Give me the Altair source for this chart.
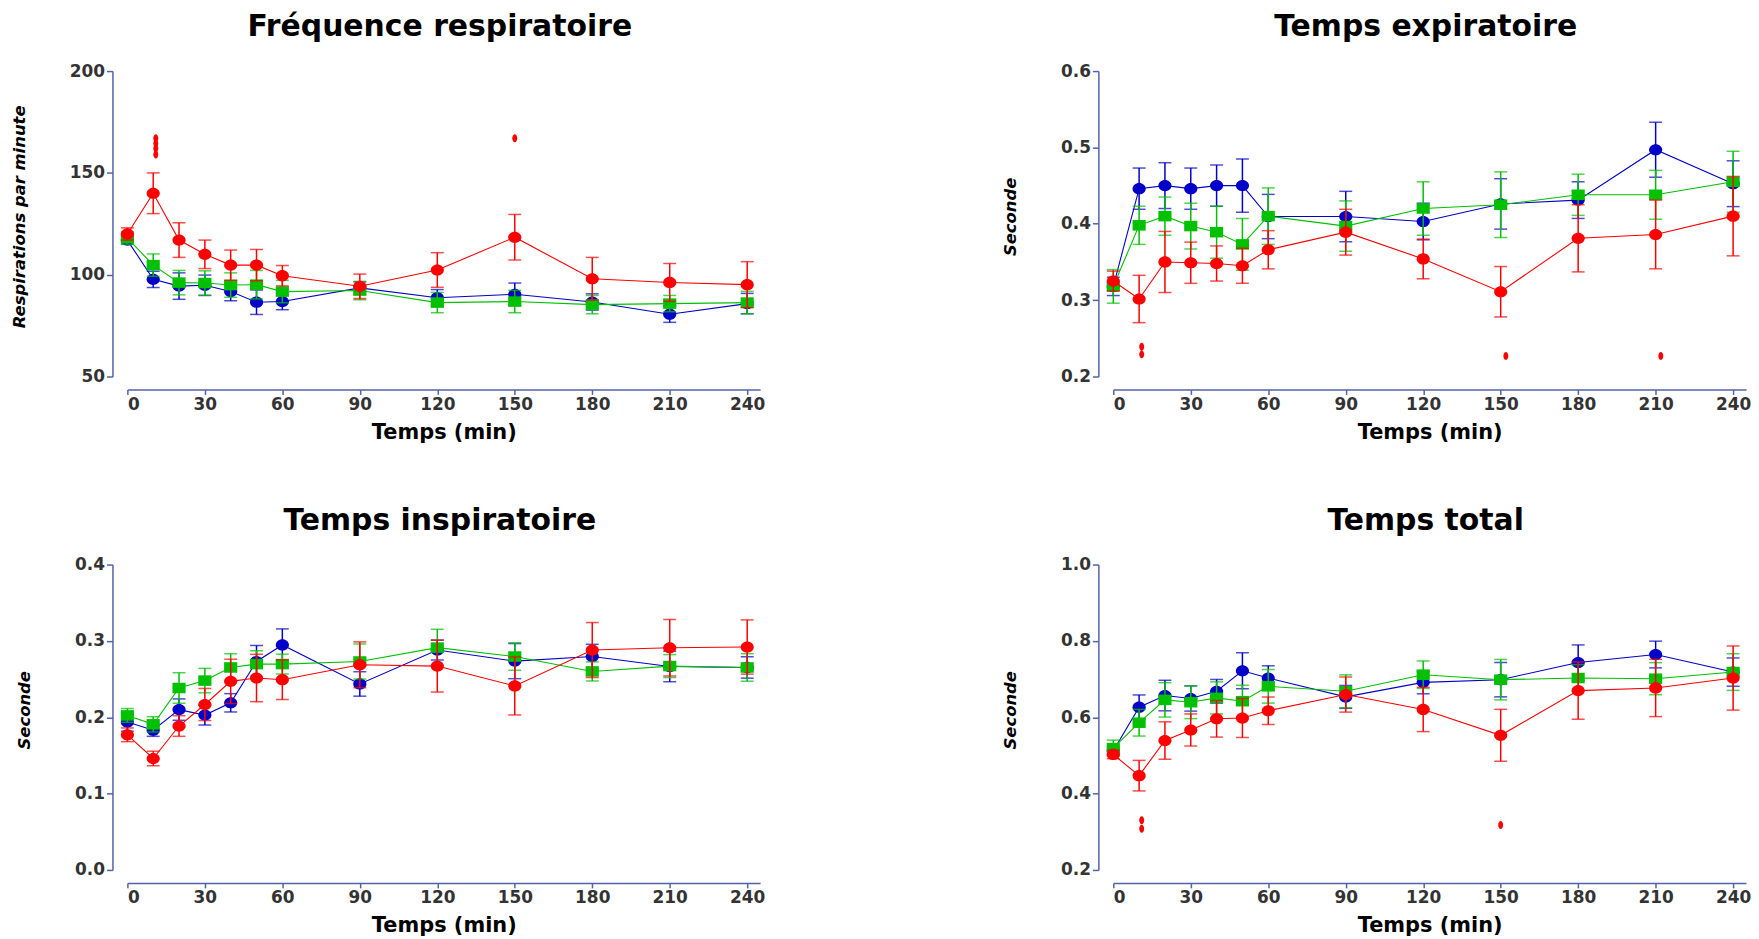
import altair as alt
import pandas as pd

TIMES = [0, 10, 20, 30, 40, 50, 60, 90, 120, 150, 180, 210, 240]
X_TICKS = [0, 30, 60, 90, 120, 150, 180, 210, 240]

# Panel 1 : Fréquence respiratoire
FR_RED = [120, 140, 117, 110, 104.7, 104.7, 99.5, 94.3, 102.3, 118.4, 98, 96.2, 95.1]
FR_RED_ERR = [3, 10, 8.5, 7, 7.4, 7.7, 5, 6, 8.5, 11.2, 10.5, 9.3, 11.3]
FR_BLUE = [117, 97.7, 94.4, 94.8, 91.7, 86.5, 86.8, 93.5, 88.7, 90.4, 86.6, 80.6, 85.8]
FR_BLUE_ERR = [2, 4, 6.5, 5, 4.5, 6, 4, 3, 4, 5.5, 4, 4, 5]
FR_GREEN = [118, 104.7, 96.1, 95.9, 94.9, 95.1, 91.7, 92.2, 86.3, 86.8, 85.3, 85.8, 86.3]
FR_GREEN_ERR = [3, 5.5, 6, 6, 6, 7, 5.5, 4.5, 5, 5.5, 4.5, 4, 5.5]
FR_SIG_X = [11, 11, 11, 11, 150]
FR_SIG_Y = [167, 164.5, 162, 159, 167]

# Panel 2 : Temps expiratoire
TE_RED = [0.325, 0.3015, 0.350, 0.349, 0.348, 0.345, 0.366, 0.389, 0.354, 0.311, 0.381, 0.386, 0.410]
TE_RED_ERR = [0.013, 0.031, 0.04, 0.027, 0.023, 0.023, 0.025, 0.03, 0.026, 0.033, 0.044, 0.045, 0.052]
TE_BLUE = [0.318, 0.446, 0.450, 0.446, 0.450, 0.450, 0.4095, 0.4095, 0.403, 0.426, 0.431, 0.497, 0.4525]
TE_BLUE_ERR = [0.012, 0.027, 0.03, 0.027, 0.027, 0.035, 0.029, 0.033, 0.024, 0.033, 0.024, 0.036, 0.03]
TE_GREEN = [0.318, 0.398, 0.410, 0.397, 0.389, 0.373, 0.410, 0.397, 0.420, 0.425, 0.438, 0.438, 0.455]
TE_GREEN_ERR = [0.022, 0.025, 0.025, 0.03, 0.034, 0.034, 0.037, 0.033, 0.035, 0.043, 0.027, 0.032, 0.04]
TE_SIG_X = [11, 11, 152, 212]
TE_SIG_Y = [0.239, 0.229, 0.227, 0.227]

# Panel 3 : Temps inspiratoire
TI_RED = [0.177, 0.146, 0.1885, 0.2167, 0.247, 0.2514, 0.2492, 0.2687, 0.267, 0.241, 0.288, 0.291, 0.292]
TI_RED_ERR = [0.009, 0.0095, 0.0135, 0.021, 0.029, 0.031, 0.026, 0.03, 0.034, 0.038, 0.036, 0.037, 0.0355]
TI_BLUE = [0.1937, 0.183, 0.210, 0.2028, 0.2189, 0.273, 0.2947, 0.2436, 0.288, 0.2735, 0.2795, 0.2665, 0.2652]
TI_BLUE_ERR = [0.012, 0.008, 0.014, 0.013, 0.012, 0.021, 0.021, 0.016, 0.013, 0.023, 0.016, 0.02, 0.014]
TI_GREEN = [0.2024, 0.1907, 0.2383, 0.248, 0.2652, 0.2696, 0.2696, 0.273, 0.2912, 0.2795, 0.260, 0.267, 0.2652]
TI_GREEN_ERR = [0.009, 0.01, 0.02, 0.016, 0.018, 0.0175, 0.013, 0.023, 0.024, 0.018, 0.0125, 0.015, 0.018]
TI_SIG_X = []
TI_SIG_Y = []

# Panel 4 : Temps total
TT_RED = [0.5025, 0.447, 0.539, 0.5666, 0.596, 0.5978, 0.617, 0.6594, 0.6204, 0.5527, 0.6698, 0.6767, 0.7027]
TT_RED_ERR = [0.011, 0.04, 0.049, 0.042, 0.048, 0.051, 0.036, 0.046, 0.058, 0.068, 0.075, 0.075, 0.084]
TT_BLUE = [0.512, 0.6264, 0.6568, 0.649, 0.668, 0.7218, 0.7027, 0.6533, 0.6914, 0.6984, 0.7434, 0.7643, 0.7183]
TT_BLUE_ERR = [0.01, 0.032, 0.04, 0.033, 0.031, 0.047, 0.032, 0.03, 0.03, 0.045, 0.046, 0.035, 0.037]
TT_GREEN = [0.519, 0.5857, 0.6455, 0.6394, 0.6507, 0.642, 0.681, 0.668, 0.7114, 0.6984, 0.7027, 0.701, 0.7183]
TT_GREEN_ERR = [0.021, 0.035, 0.045, 0.043, 0.042, 0.042, 0.044, 0.043, 0.036, 0.053, 0.035, 0.042, 0.048]
TT_SIG_X = [11, 11, 150]
TT_SIG_Y = [0.33, 0.308, 0.318]

RED = "#ff0000"
BLUE = "#0000c8"
GREEN = "#00c000"
AXIS_COLOR = "#5462a6"
FONT = "DejaVu Sans"

CIRCLE_PATH = "M-1,0A1,0.85 0 1,1 1,0A1,0.85 0 1,1 -1,0Z"
SQUARE_PATH = "M-1,-0.8L1,-0.8L1,0.8L-1,0.8Z"
DOT_PATH = "M0,-1A0.62,1 0 1,1 0,1A0.62,1 0 1,1 0,-1Z"

W, H = 636, 307


def make_x():
    return alt.X(
        "t:Q",
        title="Temps (min)",
        scale=alt.Scale(domain=[0, 245], nice=False, zero=False),
        axis=alt.Axis(
            values=X_TICKS, offset=13, tickSize=5, labelPadding=2,
            titlePadding=9, titleFontSize=21, titleFontStyle="normal",
            titleColor="black", grid=False,
        ),
    )


def make_y(field, ytitle, ydom, yticks, fmt):
    return alt.Y(
        field,
        type="quantitative",
        title=ytitle,
        scale=alt.Scale(domain=ydom, nice=False, zero=False),
        axis=alt.Axis(
            values=yticks, format=fmt, offset=15, tickSize=6, labelPadding=2,
            titlePadding=42, titleFontSize=16.5, titleFontStyle="italic",
            titleColor="black", titleY=146, grid=False,
        ),
    )


def panel(title, ytitle, ydom, yticks, fmt, series, sig_x, sig_y):
    layers = []
    for mean, err, color, path in series:
        df = pd.DataFrame({
            "t": TIMES,
            "m": mean,
            "lo": [m - e for m, e in zip(mean, err)],
            "hi": [m + e for m, e in zip(mean, err)],
        })
        base = alt.Chart(df)
        layers.append(base.mark_rule(color=color, strokeWidth=1.5).encode(
            x=make_x(), y=make_y("lo", ytitle, ydom, yticks, fmt), y2="hi"))
        layers.append(base.mark_tick(color=color, orient="horizontal", size=13, thickness=1.5).encode(
            x=make_x(), y=make_y("lo", ytitle, ydom, yticks, fmt)))
        layers.append(base.mark_tick(color=color, orient="horizontal", size=13, thickness=1.5).encode(
            x=make_x(), y=make_y("hi", ytitle, ydom, yticks, fmt)))
        layers.append(base.mark_line(color=color, strokeWidth=1.1).encode(
            x=make_x(), y=make_y("m", ytitle, ydom, yticks, fmt)))
        layers.append(base.mark_point(shape=path, filled=True, opacity=1, size=175,
                                      color=color).encode(
            x=make_x(), y=make_y("m", ytitle, ydom, yticks, fmt)))
    if sig_x:
        sdf = pd.DataFrame({"t": sig_x, "m": sig_y})
        layers.append(alt.Chart(sdf).mark_point(shape=DOT_PATH, filled=True, opacity=1,
                                                 size=64, color=RED).encode(
            x=make_x(), y=make_y("m", ytitle, ydom, yticks, fmt)))
    return alt.layer(*layers).properties(
        width=W, height=H,
        title=alt.TitleParams(title, font=FONT, fontSize=30, fontWeight="bold",
                              color="black", offset=20, anchor="middle", dx=-4),
    )


p1 = panel("Fréquence respiratoire", "Respirations par minute", [50, 200], [50, 100, 150, 200], "d",
           [(FR_BLUE, FR_BLUE_ERR, BLUE, CIRCLE_PATH),
            (FR_GREEN, FR_GREEN_ERR, GREEN, SQUARE_PATH),
            (FR_RED, FR_RED_ERR, RED, CIRCLE_PATH)], FR_SIG_X, FR_SIG_Y)
p2 = panel("Temps expiratoire", "Seconde", [0.2, 0.6], [0.2, 0.3, 0.4, 0.5, 0.6], ".1f",
           [(TE_BLUE, TE_BLUE_ERR, BLUE, CIRCLE_PATH),
            (TE_GREEN, TE_GREEN_ERR, GREEN, SQUARE_PATH),
            (TE_RED, TE_RED_ERR, RED, CIRCLE_PATH)], TE_SIG_X, TE_SIG_Y)
p3 = panel("Temps inspiratoire", "Seconde", [0.0, 0.4], [0.0, 0.1, 0.2, 0.3, 0.4], ".1f",
           [(TI_BLUE, TI_BLUE_ERR, BLUE, CIRCLE_PATH),
            (TI_GREEN, TI_GREEN_ERR, GREEN, SQUARE_PATH),
            (TI_RED, TI_RED_ERR, RED, CIRCLE_PATH)], TI_SIG_X, TI_SIG_Y)
p4 = panel("Temps total", "Seconde", [0.2, 1.0], [0.2, 0.4, 0.6, 0.8, 1.0], ".1f",
           [(TT_BLUE, TT_BLUE_ERR, BLUE, CIRCLE_PATH),
            (TT_GREEN, TT_GREEN_ERR, GREEN, SQUARE_PATH),
            (TT_RED, TT_RED_ERR, RED, CIRCLE_PATH)], TT_SIG_X, TT_SIG_Y)

chart = alt.vconcat(
    alt.hconcat(p1, p2, spacing=238),
    alt.hconcat(p3, p4, spacing=238),
    spacing=64,
).properties(
    padding={"left": 3, "top": 2, "right": 0, "bottom": 0},
    background="white",
).configure_view(stroke=None).configure_axis(
    labelFont=FONT, labelFontWeight="bold", labelFontSize=17, labelColor="#333333",
    titleFont=FONT, titleFontWeight="bold",
    domainColor=AXIS_COLOR, tickColor=AXIS_COLOR, domainWidth=1.5, tickWidth=1.5,
)

chart.save("out.html", embed_options={"renderer": "svg", "actions": False})
